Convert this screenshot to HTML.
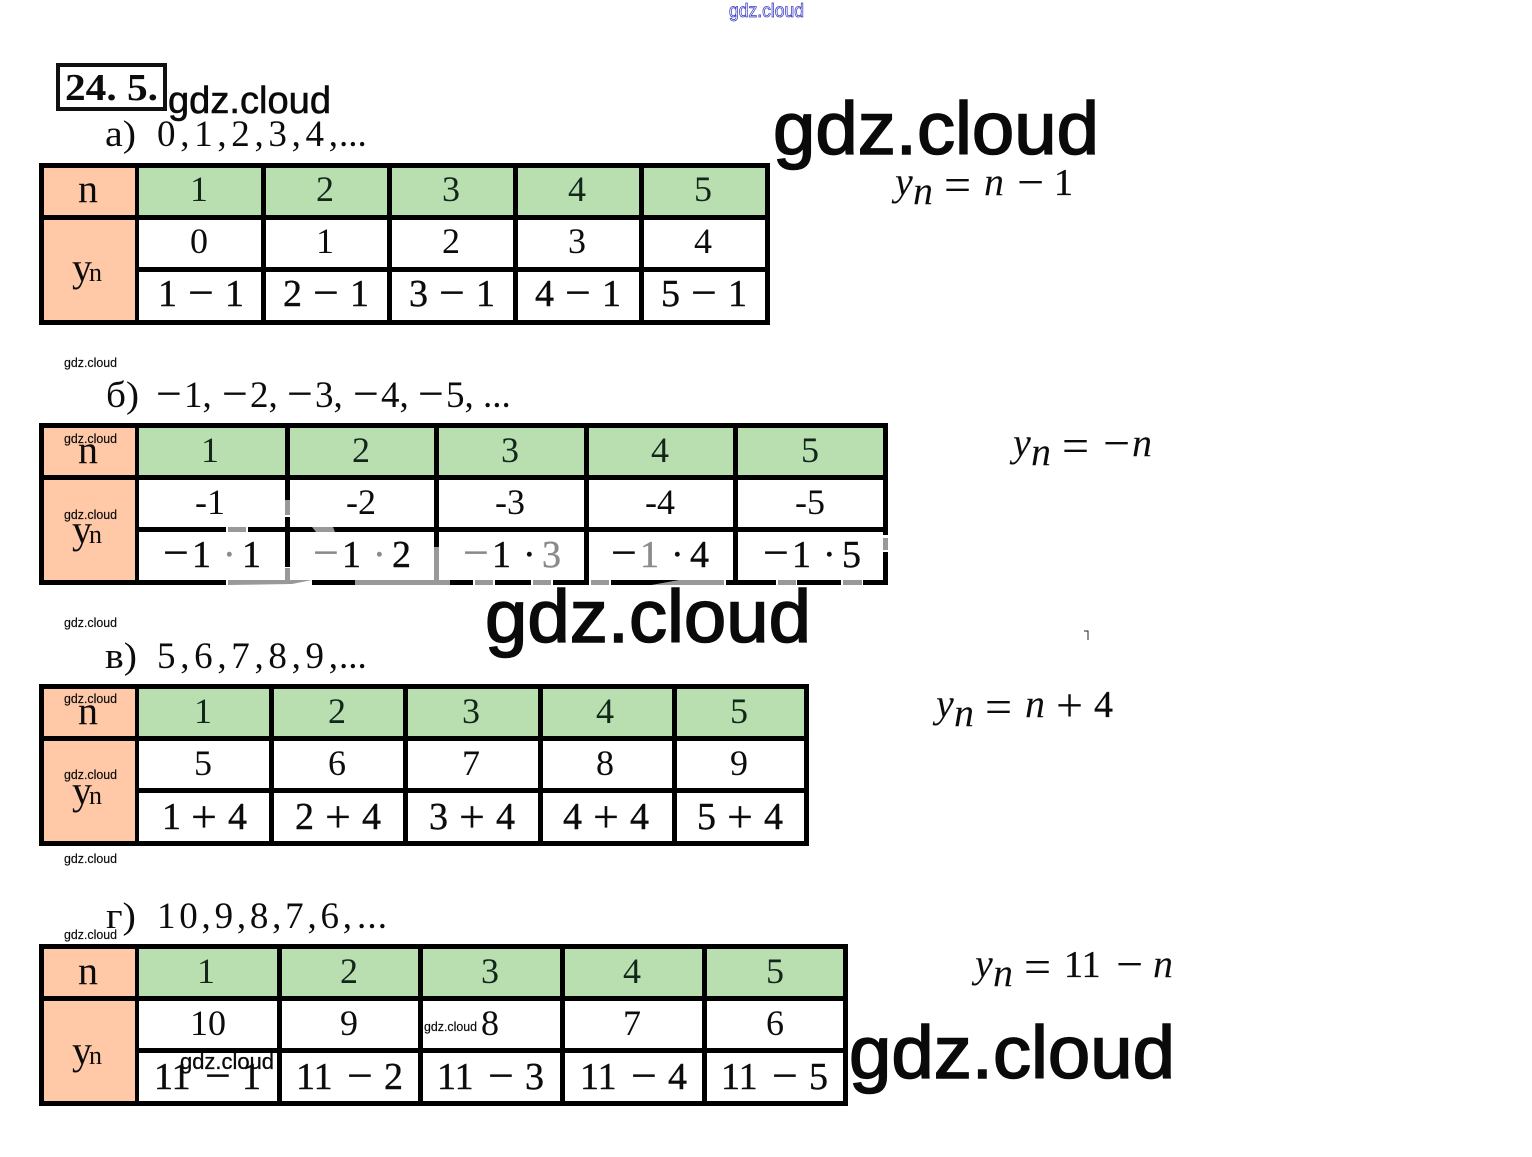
<!DOCTYPE html>
<html><head><meta charset="utf-8"><style>
html,body{margin:0;padding:0;background:#fff;width:1532px;height:1157px;overflow:hidden}
svg{display:block}
.s{font-family:"Liberation Serif",serif;fill:#0c0c0c}
.d{font-size:36px;text-anchor:middle}
.h{font-size:36px;text-anchor:middle;fill:#12261a}
.e{font-size:38px;stroke:#0c0c0c;stroke-width:.4}
.m{font-size:46px;stroke-width:.2}
.l{font-size:37px}
.t{font-size:40px}
.u{font-size:26px}
.f{font-size:40px;font-style:italic}
.k{font-size:38px;stroke:#0c0c0c;stroke-width:.3}
.q{font-size:48px}
.w{font-family:"Liberation Sans",sans-serif;fill:#0a0a0a}
.ws{font-size:13px;stroke:#0a0a0a;stroke-width:.15}
.wl{font-size:74px;stroke:#0a0a0a;stroke-width:1.6}
.g{fill:#999}
.tg{fill:#8a8a8a;stroke:#8a8a8a}
</style></head><body>
<svg width="1532" height="1157" viewBox="0 0 1532 1157" xmlns="http://www.w3.org/2000/svg">
<rect width="1532" height="1157" fill="#fff"/>

<!-- Table a -->
<g>
<rect x="39" y="163" width="731" height="162" fill="#000"/>
<rect x="44" y="168" width="91" height="47" fill="#ffc9a8"/>
<rect x="44" y="220" width="91" height="100" fill="#ffc9a8"/>
<rect x="139" y="168" width="122" height="47" fill="#b9dfb1"/><rect x="266" y="168" width="121" height="47" fill="#b9dfb1"/><rect x="392" y="168" width="121" height="47" fill="#b9dfb1"/><rect x="518" y="168" width="121" height="47" fill="#b9dfb1"/><rect x="644" y="168" width="121" height="47" fill="#b9dfb1"/>
<rect x="139" y="220" width="122" height="47" fill="#fff"/><rect x="266" y="220" width="121" height="47" fill="#fff"/><rect x="392" y="220" width="121" height="47" fill="#fff"/><rect x="518" y="220" width="121" height="47" fill="#fff"/><rect x="644" y="220" width="121" height="47" fill="#fff"/>
<rect x="139" y="272" width="122" height="48" fill="#fff"/><rect x="266" y="272" width="121" height="48" fill="#fff"/><rect x="392" y="272" width="121" height="48" fill="#fff"/><rect x="518" y="272" width="121" height="48" fill="#fff"/><rect x="644" y="272" width="121" height="48" fill="#fff"/>
</g>
<!-- Table b -->
<g>
<rect x="39" y="423" width="849" height="162" fill="#000"/>
<rect x="44" y="428" width="91" height="47" fill="#ffc9a8"/>
<rect x="44" y="480" width="91" height="100" fill="#ffc9a8"/>
<rect x="139" y="428" width="146" height="47" fill="#b9dfb1"/><rect x="290" y="428" width="144" height="47" fill="#b9dfb1"/><rect x="439" y="428" width="145" height="47" fill="#b9dfb1"/><rect x="589" y="428" width="144" height="47" fill="#b9dfb1"/><rect x="738" y="428" width="145" height="47" fill="#b9dfb1"/>
<rect x="139" y="480" width="146" height="47" fill="#fff"/><rect x="290" y="480" width="144" height="47" fill="#fff"/><rect x="439" y="480" width="145" height="47" fill="#fff"/><rect x="589" y="480" width="144" height="47" fill="#fff"/><rect x="738" y="480" width="145" height="47" fill="#fff"/>
<rect x="139" y="532" width="146" height="48" fill="#fff"/><rect x="290" y="532" width="144" height="48" fill="#fff"/><rect x="439" y="532" width="145" height="48" fill="#fff"/><rect x="589" y="532" width="144" height="48" fill="#fff"/><rect x="738" y="532" width="145" height="48" fill="#fff"/>
<!-- damaged segments -->
<rect class="g" x="285" y="500" width="5" height="15"/><rect x="285" y="515" width="5" height="2" fill="#fff"/>
<rect x="285" y="567" width="5" height="1" fill="#fff"/><rect class="g" x="285" y="568" width="5" height="12"/>
<rect x="226" y="527" width="2" height="5" fill="#fff"/><rect class="g" x="228" y="527" width="18" height="5"/><rect x="246" y="527" width="2" height="5" fill="#fff"/>
<polygon class="g" points="312,527 333,527 335,532 316,532"/>
<rect x="226" y="580" width="2" height="5" fill="#fff"/><rect x="228" y="580" width="84" height="5" fill="#fff"/><polygon class="g" points="228,580 312,580 292,584 228,585"/>
<rect class="g" x="355" y="580" width="95" height="5"/>
<rect class="g" x="434" y="547" width="5" height="33"/>
<rect x="473" y="580" width="22" height="5" fill="#fff"/><rect class="g" x="475" y="580" width="18" height="5"/>
<rect x="531" y="580" width="22" height="5" fill="#fff"/><rect class="g" x="533" y="580" width="18" height="5"/>
<rect x="589" y="580" width="22" height="5" fill="#fff"/><rect class="g" x="591" y="580" width="18" height="5"/>
<polygon points="652,585 680,580 726,580 726,585" fill="#fff"/><polygon class="g" points="652,585 680,580 724,580 724,585"/>
<rect x="776" y="580" width="21" height="5" fill="#fff"/><rect class="g" x="778" y="580" width="18" height="5"/>
<rect x="841" y="580" width="22" height="5" fill="#fff"/><rect class="g" x="843" y="580" width="19" height="5"/>
<rect x="883" y="535" width="5" height="17" fill="#fff"/><rect class="g" x="883" y="538" width="5" height="12"/>
</g>
<!-- Table c -->
<g>
<rect x="39" y="684" width="770" height="162" fill="#000"/>
<rect x="44" y="689" width="91" height="47" fill="#ffc9a8"/>
<rect x="44" y="741" width="91" height="100" fill="#ffc9a8"/>
<rect x="139" y="689" width="130" height="47" fill="#b9dfb1"/><rect x="274" y="689" width="129" height="47" fill="#b9dfb1"/><rect x="408" y="689" width="130" height="47" fill="#b9dfb1"/><rect x="543" y="689" width="129" height="47" fill="#b9dfb1"/><rect x="677" y="689" width="127" height="47" fill="#b9dfb1"/>
<rect x="139" y="741" width="130" height="47" fill="#fff"/><rect x="274" y="741" width="129" height="47" fill="#fff"/><rect x="408" y="741" width="130" height="47" fill="#fff"/><rect x="543" y="741" width="129" height="47" fill="#fff"/><rect x="677" y="741" width="127" height="47" fill="#fff"/>
<rect x="139" y="793" width="130" height="48" fill="#fff"/><rect x="274" y="793" width="129" height="48" fill="#fff"/><rect x="408" y="793" width="130" height="48" fill="#fff"/><rect x="543" y="793" width="129" height="48" fill="#fff"/><rect x="677" y="793" width="127" height="48" fill="#fff"/>
</g>
<!-- Table d -->
<g>
<rect x="39" y="944" width="809" height="162" fill="#000"/>
<rect x="44" y="949" width="91" height="47" fill="#ffc9a8"/>
<rect x="44" y="1001" width="91" height="100" fill="#ffc9a8"/>
<rect x="139" y="949" width="138" height="47" fill="#b9dfb1"/><rect x="282" y="949" width="136" height="47" fill="#b9dfb1"/><rect x="423" y="949" width="137" height="47" fill="#b9dfb1"/><rect x="565" y="949" width="137" height="47" fill="#b9dfb1"/><rect x="707" y="949" width="136" height="47" fill="#b9dfb1"/>
<rect x="139" y="1001" width="138" height="47" fill="#fff"/><rect x="282" y="1001" width="136" height="47" fill="#fff"/><rect x="423" y="1001" width="137" height="47" fill="#fff"/><rect x="565" y="1001" width="137" height="47" fill="#fff"/><rect x="707" y="1001" width="136" height="47" fill="#fff"/>
<rect x="139" y="1053" width="138" height="48" fill="#fff"/><rect x="282" y="1053" width="136" height="48" fill="#fff"/><rect x="423" y="1053" width="137" height="48" fill="#fff"/><rect x="565" y="1053" width="137" height="48" fill="#fff"/><rect x="707" y="1053" width="136" height="48" fill="#fff"/>
</g>

<!-- Heading box -->
<rect x="58" y="65" width="107" height="44" fill="#fff" stroke="#111" stroke-width="4"/>
<text class="s" x="65" y="100" font-size="38" font-weight="bold" textLength="93" lengthAdjust="spacingAndGlyphs">24. 5.</text>

<!-- Labels -->
<text class="s l" x="105" y="146" textLength="31" lengthAdjust="spacingAndGlyphs">а)</text>
<text class="s l" x="157" y="146" textLength="181" lengthAdjust="spacing">0,1,2,3,4,</text><text class="s l" x="339" y="146">...</text>
<text class="s l" x="106" y="407" textLength="33" lengthAdjust="spacingAndGlyphs">б)</text>
<text class="s l"><tspan class="m" x="156" y="409">−</tspan><tspan x="184" y="407">1,</tspan><tspan class="m" x="222" y="409">−</tspan><tspan x="250" y="407">2,</tspan><tspan class="m" x="287" y="409">−</tspan><tspan x="315" y="407">3,</tspan><tspan class="m" x="353" y="409">−</tspan><tspan x="381" y="407">4,</tspan><tspan class="m" x="418" y="409">−</tspan><tspan x="446" y="407">5,</tspan><tspan x="483" y="407">...</tspan></text>
<text class="s l" x="105" y="668" textLength="32" lengthAdjust="spacingAndGlyphs">в)</text>
<text class="s l" x="157" y="668" textLength="181" lengthAdjust="spacing">5,6,7,8,9,</text><text class="s l" x="339" y="668">...</text>
<text class="s l" x="106" y="928" font-size="37" textLength="30" lengthAdjust="spacingAndGlyphs">г)</text>
<text class="s l" x="157" y="928" textLength="195" lengthAdjust="spacing">10,9,8,7,6,</text><text class="s l" x="357" y="928" textLength="30" lengthAdjust="spacing">...</text>

<!-- n / yn -->
<text class="s t" x="78" y="202">n</text><text class="s t" x="72" y="281">y</text><text class="s u" x="89" y="281">n</text>
<text class="s t" x="78" y="463">n</text><text class="s t" x="72" y="543">y</text><text class="s u" x="89" y="543">n</text>
<text class="s t" x="78" y="724">n</text><text class="s t" x="72" y="804">y</text><text class="s u" x="89" y="804">n</text>
<text class="s t" x="78" y="984">n</text><text class="s t" x="72" y="1064">y</text><text class="s u" x="89" y="1064">n</text>

<!-- a rows -->
<text class="s h" x="199" y="201">1</text><text class="s h" x="325" y="201">2</text><text class="s h" x="451" y="201">3</text><text class="s h" x="577" y="201">4</text><text class="s h" x="703" y="201">5</text>
<text class="s d" x="199" y="253">0</text><text class="s d" x="325" y="253">1</text><text class="s d" x="451" y="253">2</text><text class="s d" x="577" y="253">3</text><text class="s d" x="703" y="253">4</text>
<text class="s e"><tspan x="158" y="306">1</tspan><tspan class="m" x="188" y="308">−</tspan><tspan x="225" y="306">1</tspan></text>
<text class="s e"><tspan x="283" y="306">2</tspan><tspan class="m" x="313" y="308">−</tspan><tspan x="350" y="306">1</tspan></text>
<text class="s e"><tspan x="409" y="306">3</tspan><tspan class="m" x="439" y="308">−</tspan><tspan x="476" y="306">1</tspan></text>
<text class="s e"><tspan x="535" y="306">4</tspan><tspan class="m" x="565" y="308">−</tspan><tspan x="602" y="306">1</tspan></text>
<text class="s e"><tspan x="661" y="306">5</tspan><tspan class="m" x="691" y="308">−</tspan><tspan x="728" y="306">1</tspan></text>

<!-- b rows -->
<text class="s h" x="210" y="462">1</text><text class="s h" x="361" y="462">2</text><text class="s h" x="510" y="462">3</text><text class="s h" x="660" y="462">4</text><text class="s h" x="810" y="462">5</text>
<text class="s d" x="210" y="514">-1</text><text class="s d" x="361" y="514">-2</text><text class="s d" x="510" y="514">-3</text><text class="s d" x="660" y="514">-4</text><text class="s d" x="810" y="514">-5</text>
<text class="s e"><tspan class="m" x="163" y="568">−</tspan><tspan x="192" y="567">1</tspan><tspan class="tg" x="223" y="567">·</tspan><tspan x="242" y="567">1</tspan></text>
<text class="s e"><tspan class="m tg" x="313" y="568">−</tspan><tspan x="342" y="567">1</tspan><tspan class="tg" x="373" y="567">·</tspan><tspan x="392" y="567">2</tspan></text>
<text class="s e"><tspan class="m tg" x="463" y="568">−</tspan><tspan x="492" y="567">1</tspan><tspan x="523" y="567">·</tspan><tspan class="tg" x="542" y="567">3</tspan></text>
<text class="s e"><tspan class="m" x="611" y="568">−</tspan><tspan class="tg" x="640" y="567">1</tspan><tspan x="671" y="567">·</tspan><tspan x="690" y="567">4</tspan></text>
<text class="s e"><tspan class="m" x="763" y="568">−</tspan><tspan x="792" y="567">1</tspan><tspan x="823" y="567">·</tspan><tspan x="842" y="567">5</tspan></text>

<!-- c rows -->
<text class="s h" x="203" y="723">1</text><text class="s h" x="337" y="723">2</text><text class="s h" x="471" y="723">3</text><text class="s h" x="605" y="723">4</text><text class="s h" x="739" y="723">5</text>
<text class="s d" x="203" y="775">5</text><text class="s d" x="337" y="775">6</text><text class="s d" x="471" y="775">7</text><text class="s d" x="605" y="775">8</text><text class="s d" x="739" y="775">9</text>
<text class="s e"><tspan x="162" y="829">1</tspan><tspan class="m" x="191" y="832">+</tspan><tspan x="228" y="829">4</tspan></text>
<text class="s e"><tspan x="295" y="829">2</tspan><tspan class="m" x="325" y="832">+</tspan><tspan x="362" y="829">4</tspan></text>
<text class="s e"><tspan x="429" y="829">3</tspan><tspan class="m" x="459" y="832">+</tspan><tspan x="496" y="829">4</tspan></text>
<text class="s e"><tspan x="563" y="829">4</tspan><tspan class="m" x="593" y="832">+</tspan><tspan x="630" y="829">4</tspan></text>
<text class="s e"><tspan x="697" y="829">5</tspan><tspan class="m" x="727" y="832">+</tspan><tspan x="764" y="829">4</tspan></text>

<!-- d rows -->
<text class="s h" x="206" y="983">1</text><text class="s h" x="349" y="983">2</text><text class="s h" x="490" y="983">3</text><text class="s h" x="632" y="983">4</text><text class="s h" x="775" y="983">5</text>
<text class="s d" x="208" y="1035">10</text><text class="s d" x="349" y="1035">9</text><text class="s d" x="490" y="1035">8</text><text class="s d" x="632" y="1035">7</text><text class="s d" x="775" y="1035">6</text>
<text class="s e"><tspan x="154" y="1089">11</tspan><tspan class="m" x="205" y="1091">−</tspan><tspan x="242" y="1089">1</tspan></text>
<text class="s e"><tspan x="296" y="1089">11</tspan><tspan class="m" x="347" y="1091">−</tspan><tspan x="384" y="1089">2</tspan></text>
<text class="s e"><tspan x="437" y="1089">11</tspan><tspan class="m" x="488" y="1091">−</tspan><tspan x="525" y="1089">3</tspan></text>
<text class="s e"><tspan x="580" y="1089">11</tspan><tspan class="m" x="631" y="1091">−</tspan><tspan x="668" y="1089">4</tspan></text>
<text class="s e"><tspan x="721" y="1089">11</tspan><tspan class="m" x="772" y="1091">−</tspan><tspan x="809" y="1089">5</tspan></text>

<!-- Formulas -->
<text class="s f" x="895" y="195">y</text><text class="s f u" x="913" y="204">n</text><text class="s q" x="944" y="201">=</text><text class="s f" x="984" y="195">n</text><text class="s q" x="1017" y="198">−</text><text class="s k" x="1054" y="195">1</text>
<text class="s f" x="1013" y="456">y</text><text class="s f u" x="1031" y="465">n</text><text class="s q" x="1062" y="462">=</text><text class="s q" x="1103" y="459">−</text><text class="s f" x="1132" y="456">n</text>
<text class="s f" x="936" y="717">y</text><text class="s f u" x="954" y="726">n</text><text class="s q" x="985" y="723">=</text><text class="s f" x="1025" y="717">n</text><text class="s q" x="1056" y="721">+</text><text class="s k" x="1094" y="717">4</text>
<text class="s f" x="975" y="977">y</text><text class="s f u" x="993" y="986">n</text><text class="s q" x="1024" y="983">=</text><text class="s k" x="1064" y="977">11</text><text class="s q" x="1116" y="980">−</text><text class="s f" x="1153" y="977">n</text>

<!-- Stray mark -->
<path d="M1084 631h4v9" fill="none" stroke="#222" stroke-width="1"/>

<!-- Watermarks -->
<text x="729" y="17" font-family="Liberation Sans,sans-serif" font-size="19" fill="#fff" stroke="#3a3ac8" stroke-width=".8" textLength="75" lengthAdjust="spacingAndGlyphs">gdz.cloud</text>
<text class="w" x="168" y="113" font-size="38" stroke="#0a0a0a" stroke-width=".6" textLength="163" lengthAdjust="spacingAndGlyphs">gdz.cloud</text>
<text class="w wl" x="773" y="154" textLength="326" lengthAdjust="spacingAndGlyphs">gdz.cloud</text>
<text class="w wl" x="485" y="642" textLength="326" lengthAdjust="spacingAndGlyphs">gdz.cloud</text>
<text class="w wl" x="849" y="1078" textLength="326" lengthAdjust="spacingAndGlyphs">gdz.cloud</text>
<text class="w" x="180" y="1069" font-size="22" stroke="#0a0a0a" stroke-width=".3" textLength="94" lengthAdjust="spacingAndGlyphs">gdz.cloud</text>
<text class="w ws" x="64" y="367" textLength="53" lengthAdjust="spacingAndGlyphs">gdz.cloud</text>
<text class="w ws" x="64" y="443" textLength="53" lengthAdjust="spacingAndGlyphs">gdz.cloud</text>
<text class="w ws" x="64" y="519" textLength="53" lengthAdjust="spacingAndGlyphs">gdz.cloud</text>
<text class="w ws" x="64" y="627" textLength="53" lengthAdjust="spacingAndGlyphs">gdz.cloud</text>
<text class="w ws" x="64" y="703" textLength="53" lengthAdjust="spacingAndGlyphs">gdz.cloud</text>
<text class="w ws" x="64" y="779" textLength="53" lengthAdjust="spacingAndGlyphs">gdz.cloud</text>
<text class="w ws" x="64" y="863" textLength="53" lengthAdjust="spacingAndGlyphs">gdz.cloud</text>
<text class="w ws" x="64" y="939" textLength="53" lengthAdjust="spacingAndGlyphs">gdz.cloud</text>
<text class="w ws" x="424" y="1031" textLength="53" lengthAdjust="spacingAndGlyphs">gdz.cloud</text>
</svg>
</body></html>
